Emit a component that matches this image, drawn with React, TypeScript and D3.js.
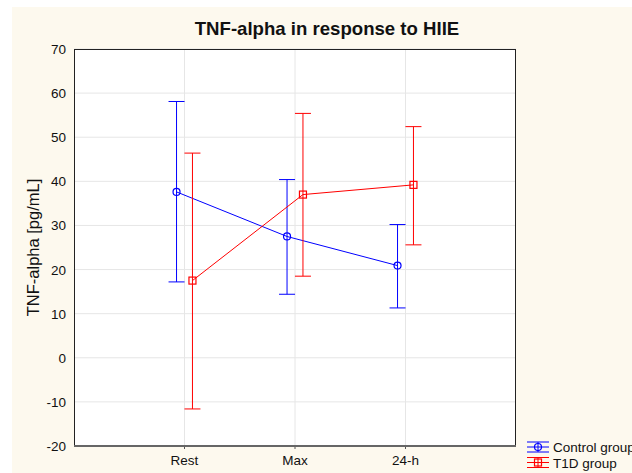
import * as d3 from "d3";

const categories = ["Rest", "Max", "24-h"];
const controlMean = [37.6, 27.5, 20.9];
const controlUpper = [58.1, 40.4, 30.2];
const controlLower = [17.2, 14.4, 11.3];
const t1dMean = [17.5, 37.0, 39.2];
const t1dUpper = [46.4, 55.4, 52.4];
const t1dLower = [-11.6, 18.5, 25.6];
const yTicks = [-20, -10, 0, 10, 20, 30, 40, 50, 60, 70];

const W = 632;
const H = 473;
const left = 74;
const right = 516;
const top = 49;
const bottom = 446;
const font = "Liberation Sans, Arial, sans-serif";

export default function App() {
  const x = d3.scaleLinear([0, 4], [left, right]);
  const y = d3.scaleLinear([-20, 70], [bottom, top]);
  const off = 0.072;

  const series = [
    { name: "Control group", color: "#0000ff", mean: controlMean, up: controlUpper, lo: controlLower, dx: -off, shape: "circle" },
    { name: "T1D group", color: "#ff0000", mean: t1dMean, up: t1dUpper, lo: t1dLower, dx: off, shape: "square" },
  ];

  const marker = (shape: string, cx: number, cy: number, color: string) =>
    shape === "circle" ? (
      <circle cx={cx} cy={cy} r={3.5} fill="none" stroke={color} strokeWidth={1.2} />
    ) : (
      <rect x={cx - 3.5} y={cy - 3.5} width={7} height={7} fill="none" stroke={color} strokeWidth={1.2} />
    );

  return (
    <svg width={W} height={H} style={{ position: "absolute", left: 0, top: 0 }}>
      <rect x={0} y={0} width={W} height={H} fill="#ffffff" />
      <rect x={12} y={7} width={W - 12} height={H - 7} fill="#fdf9ee" />
      <rect x={left} y={top} width={right - left} height={bottom - top} fill="#ffffff" />
      {yTicks.map((t) => (
        <g key={t}>
          <line x1={left} x2={right} y1={y(t)} y2={y(t)} stroke="#e6e6e6" />
          <text x={left - 8} y={y(t) + 5} textAnchor="end" fontFamily={font} fontSize={13.5} fill="#111">
            {t}
          </text>
        </g>
      ))}
      {categories.map((c, i) => (
        <g key={c}>
          <line x1={x(i + 1)} x2={x(i + 1)} y1={top} y2={bottom} stroke="#e6e6e6" />
          <line x1={x(i + 1)} x2={x(i + 1)} y1={bottom} y2={bottom + 3} stroke="#555" />
          <text x={x(i + 1)} y={bottom + 19} textAnchor="middle" fontFamily={font} fontSize={13.5} fill="#111">
            {c}
          </text>
        </g>
      ))}
      <line x1={left} x2={right} y1={top + 0.5} y2={top + 0.5} stroke="#222" />
      <line x1={right - 0.5} x2={right - 0.5} y1={top} y2={bottom} stroke="#222" />
      <line x1={left + 0.5} x2={left + 0.5} y1={top} y2={bottom} stroke="#222" />
      <line x1={left} x2={right} y1={bottom} y2={bottom} stroke="#666" strokeWidth={2} />

      {series.map((s) => {
        const lp = d3.line<number>((d, i) => x(i + 1 + s.dx), (d) => y(d));
        return (
          <g key={s.name}>
            {s.mean.map((m, i) => {
              const cx = x(i + 1 + s.dx);
              return (
                <g key={i} stroke={s.color} strokeWidth={1}>
                  <line x1={cx} x2={cx} y1={y(s.up[i])} y2={y(s.lo[i])} />
                  <line x1={cx - 8} x2={cx + 8} y1={y(s.up[i])} y2={y(s.up[i])} />
                  <line x1={cx - 8} x2={cx + 8} y1={y(s.lo[i])} y2={y(s.lo[i])} />
                </g>
              );
            })}
            <path d={lp(s.mean) || ""} fill="none" stroke={s.color} strokeWidth={1} />
            {s.mean.map((m, i) => (
              <g key={"m" + i}>{marker(s.shape, x(i + 1 + s.dx), y(m), s.color)}</g>
            ))}
          </g>
        );
      })}

      <text x={327} y={35} textAnchor="middle" fontFamily={font} fontSize={18.6} fontWeight="bold" fill="#111">
        TNF-alpha in response to HIIE
      </text>
      <text
        transform={`translate(39,${(top + bottom) / 2}) rotate(-90)`}
        textAnchor="middle"
        fontFamily={font}
        fontSize={16.5}
        fill="#111"
      >
        TNF-alpha [pg/mL]
      </text>

      {series.map((s, i) => {
        const ly = 447 + i * 15.5;
        const lx = 538;
        return (
          <g key={"lg" + i}>
            <g stroke={s.color} strokeWidth={1}>
              <line x1={lx - 11} x2={lx + 11} y1={ly - 5} y2={ly - 5} />
              <line x1={lx - 11} x2={lx + 11} y1={ly} y2={ly} />
              <line x1={lx - 11} x2={lx + 11} y1={ly + 5} y2={ly + 5} />
              <line x1={lx} x2={lx} y1={ly - 5} y2={ly + 5} />
            </g>
            {marker(s.shape, lx, ly, s.color)}
            <text x={553} y={ly + 5} fontFamily={font} fontSize={13.5} fill="#111">
              {s.name}
            </text>
          </g>
        );
      })}
    </svg>
  );
}
